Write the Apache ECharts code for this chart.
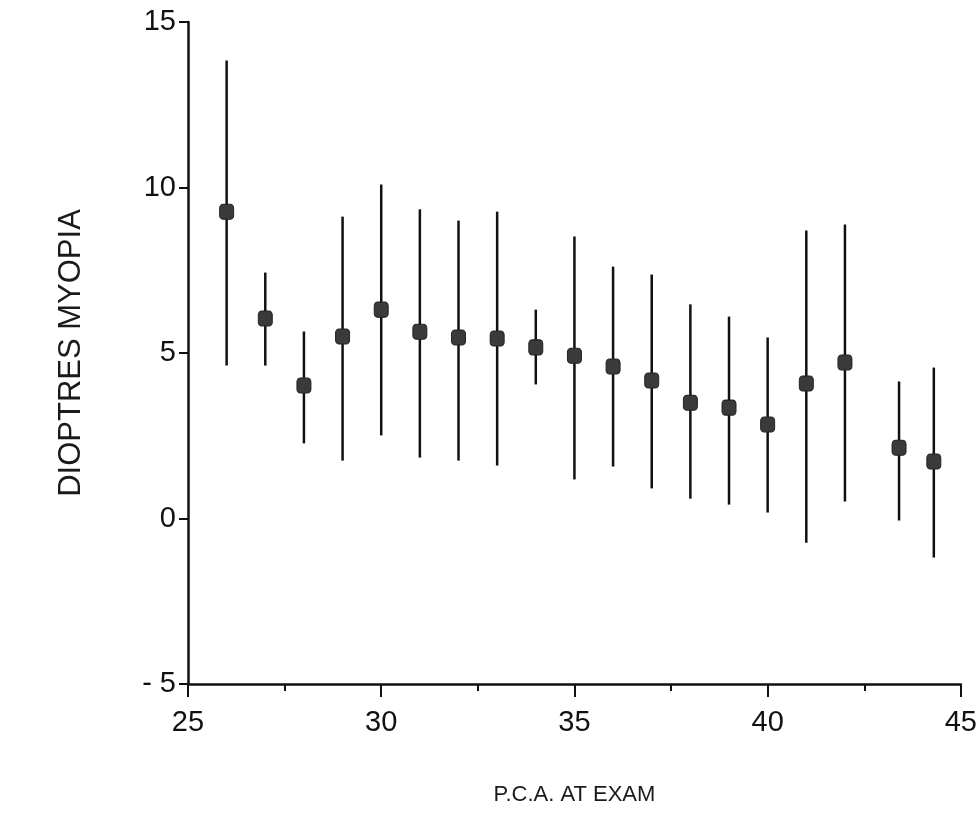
<!DOCTYPE html>
<html>
<head>
<meta charset="utf-8">
<script src="https://cdn.jsdelivr.net/npm/echarts@6/dist/echarts.min.js"></script>
<style>
html,body{margin:0;padding:0;background:#fff;}
#chart{width:980px;height:838px;}
</style>
</head>
<body>
<div id="chart"></div>
<script>
// Data
const pcaAtExam = [26, 27, 28, 29, 30, 31, 32, 33, 34, 35, 36, 37, 38, 39, 40, 41, 42, 43.4, 44.3];
const meanMyopia = [9.27, 6.04, 4.02, 5.50, 6.31, 5.64, 5.47, 5.44, 5.17, 4.92, 4.59, 4.17, 3.50, 3.35, 2.84, 4.08, 4.71, 2.14, 1.72];
const lowMyopia  = [4.62, 4.62, 2.27, 1.75, 2.51, 1.84, 1.75, 1.60, 4.05, 1.18, 1.57, 0.91, 0.60, 0.42, 0.18, -0.73, 0.51, -0.06, -1.18];
const highMyopia = [13.84, 7.43, 5.65, 9.12, 10.09, 9.34, 9.00, 9.27, 6.31, 8.52, 7.61, 7.37, 6.47, 6.10, 5.47, 8.70, 8.88, 4.14, 4.56];
const xTicks = [25, 30, 35, 40, 45];
const yTicks = [-5, 0, 5, 10, 15];

const barData = pcaAtExam.map((x, i) => [x, lowMyopia[i], highMyopia[i]]);
const pointData = pcaAtExam.map((x, i) => [x, meanMyopia[i]]);

const chart = echarts.init(document.getElementById('chart'));
const font = 'Liberation Sans, Arial, sans-serif';
chart.setOption({
  backgroundColor: '#ffffff',
  animation: false,
  grid: { left: 188, right: 17, top: 22, bottom: 154 },
  xAxis: {
    type: 'value',
    min: xTicks[0], max: xTicks[xTicks.length - 1], interval: 5,
    name: 'P.C.A. AT EXAM',
    nameLocation: 'middle',
    nameGap: 100,
    nameTextStyle: { fontFamily: font, fontSize: 22, color: '#1a1a1a' },
    axisLine: { onZero: false, lineStyle: { color: '#111', width: 2.5 } },
    axisTick: { show: true, length: 13, lineStyle: { color: '#111', width: 2 } },
    minorTick: { show: true, splitNumber: 2, length: 7, lineStyle: { color: '#111', width: 2 } },
    axisLabel: { fontFamily: font, fontSize: 29, color: '#111', margin: 24 },
    splitLine: { show: false }
  },
  yAxis: {
    type: 'value',
    min: yTicks[0], max: yTicks[yTicks.length - 1], interval: 5,
    name: 'DIOPTRES MYOPIA',
    nameLocation: 'middle',
    nameGap: 101,
    nameRotate: 90,
    nameTextStyle: { fontFamily: font, fontSize: 31, color: '#1a1a1a' },
    axisLine: { onZero: false, lineStyle: { color: '#111', width: 2.5 } },
    axisTick: { show: true, length: 9, lineStyle: { color: '#111', width: 2 } },
    axisLabel: {
      fontFamily: font, fontSize: 29, color: '#111', margin: 12,
      formatter: v => (v < 0 ? '- ' + Math.abs(v) : String(v))
    },
    splitLine: { show: false }
  },
  series: [
    {
      type: 'custom',
      data: barData,
      encode: { x: 0, y: [1, 2] },
      renderItem: function (params, api) {
        const x = api.value(0);
        const lo = api.coord([x, api.value(1)]);
        const hi = api.coord([x, api.value(2)]);
        return {
          type: 'line',
          shape: { x1: lo[0], y1: lo[1], x2: hi[0], y2: hi[1] },
          style: { stroke: '#111', lineWidth: 2.5 }
        };
      },
      z: 2
    },
    {
      type: 'scatter',
      data: pointData,
      symbol: 'roundRect',
      symbolSize: [14, 15],
      itemStyle: { color: '#3a3a3a', borderColor: '#222', borderWidth: 1, opacity: 1 },
      z: 3
    }
  ]
});
</script>
</body>
</html>
